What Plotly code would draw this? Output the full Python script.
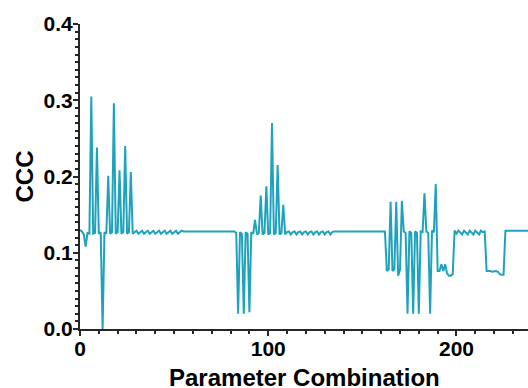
import plotly.graph_objects as go

# CCC value for each parameter combination (index 0..242)
ccc = [
    # 0-27
    0.130, 0.128, 0.124, 0.108, 0.126, 0.125, 0.305, 0.125, 0.126, 0.238,
    0.125, 0.127, 0.000, 0.127, 0.125, 0.201, 0.125, 0.127, 0.296, 0.125,
    0.127, 0.208, 0.125, 0.127, 0.240, 0.125, 0.127, 0.206,
    # 28-54
    0.125, 0.127, 0.129, 0.125, 0.127, 0.129, 0.125, 0.127, 0.129,
    0.125, 0.127, 0.129, 0.125, 0.127, 0.129, 0.125, 0.127, 0.129,
    0.125, 0.127, 0.129, 0.125, 0.127, 0.129, 0.125, 0.127, 0.129,
    # 55-82
    0.128, 0.128, 0.128, 0.128, 0.128, 0.128, 0.128, 0.128, 0.128, 0.128,
    0.128, 0.128, 0.128, 0.128, 0.128, 0.128, 0.128, 0.128, 0.128, 0.128,
    0.128, 0.128, 0.128, 0.128, 0.128, 0.128, 0.128, 0.128,
    # 83-108
    0.126, 0.020, 0.127, 0.125, 0.020, 0.127, 0.125, 0.022, 0.127, 0.125,
    0.143, 0.124, 0.126, 0.175, 0.124, 0.126, 0.187, 0.124, 0.126, 0.270,
    0.124, 0.126, 0.215, 0.124, 0.126, 0.163,
    # 109-135
    0.124, 0.127, 0.128, 0.124, 0.127, 0.128, 0.124, 0.127, 0.128,
    0.124, 0.127, 0.128, 0.124, 0.127, 0.128, 0.124, 0.127, 0.128,
    0.124, 0.127, 0.128, 0.124, 0.127, 0.128, 0.124, 0.127, 0.128,
    # 136-162
    0.128, 0.128, 0.128, 0.128, 0.128, 0.128, 0.128, 0.128, 0.128,
    0.128, 0.128, 0.128, 0.128, 0.128, 0.128, 0.128, 0.128, 0.128,
    0.128, 0.128, 0.128, 0.128, 0.128, 0.128, 0.128, 0.128, 0.128,
    # 163-198
    0.076, 0.078, 0.167, 0.076, 0.078, 0.167, 0.070, 0.078, 0.168,
    0.128, 0.126, 0.020, 0.128, 0.126, 0.020, 0.128, 0.126, 0.020,
    0.128, 0.127, 0.178, 0.128, 0.126, 0.020, 0.129, 0.127, 0.190,
    0.076, 0.076, 0.085, 0.076, 0.085, 0.073, 0.070, 0.070, 0.072,
    # 199-215
    0.129, 0.125, 0.129, 0.127, 0.124, 0.129, 0.127, 0.124, 0.129,
    0.127, 0.124, 0.129, 0.127, 0.124, 0.129, 0.127, 0.128,
    # 216-225
    0.076, 0.076, 0.076, 0.075, 0.076, 0.076, 0.075, 0.072, 0.071, 0.071,
    # 226-242
    0.129, 0.129, 0.129, 0.129, 0.129, 0.129, 0.129, 0.129, 0.129,
    0.129, 0.129, 0.129, 0.129, 0.129, 0.129, 0.129, 0.129,
]
combo = list(range(len(ccc)))

x_ticks = [0, 100, 200]
y_ticks = [0.0, 0.1, 0.2, 0.3, 0.4]
y_tick_labels = ["0.0", "0.1", "0.2", "0.3", "0.4"]
x_title = "Parameter Combination"
y_title = "CCC"

FONT = "Liberation Sans, Arial, sans-serif"
AXCOL = "#262626"

fig = go.Figure()
fig.add_trace(go.Scatter(
    x=combo, y=ccc, mode="lines",
    line=dict(color="#1fa3bc", width=2),
    showlegend=False, hoverinfo="skip",
))

fig.update_layout(
    width=528, height=388,
    margin=dict(l=80, r=0, t=24, b=59),
    paper_bgcolor="white", plot_bgcolor="white",
    font=dict(family=FONT, color="black"),
)
fig.update_xaxes(
    range=[0, 238], automargin=False,
    tickvals=x_ticks, ticktext=[str(v) for v in x_ticks],
    showgrid=False, zeroline=False,
    showline=True, linecolor=AXCOL, linewidth=2,
    ticks="outside", ticklen=5, tickwidth=1.5, tickcolor=AXCOL,
    tickfont=dict(size=21, weight="bold", family=FONT),
    ticklabelstandoff=-5,
    minor=dict(dtick=10, ticks="outside", ticklen=3, tickwidth=1.5, tickcolor=AXCOL, showgrid=False),
)
fig.update_yaxes(
    range=[0, 0.4], automargin=False,
    tickvals=y_ticks, ticktext=y_tick_labels,
    showgrid=False, zeroline=False,
    showline=True, linecolor=AXCOL, linewidth=2,
    ticks="outside", ticklen=5, tickwidth=1.5, tickcolor=AXCOL,
    tickfont=dict(size=21, weight="bold", family=FONT),
    ticklabelstandoff=-4,
    minor=dict(dtick=0.01, ticks="outside", ticklen=3, tickwidth=1.5, tickcolor=AXCOL, showgrid=False),
    title=dict(text=y_title, font=dict(size=24, weight="bold", family=FONT), standoff=3),
)
# x-axis title placed as a paper annotation so it can sit at the very bottom edge
fig.add_annotation(
    text=x_title, xref="paper", yref="paper", x=0.5, y=-0.108,
    xanchor="center", yanchor="top", showarrow=False,
    font=dict(size=24, weight="bold", family=FONT, color="black"),
)

# remove the default page margin so the 528x388 figure fills the window exactly
fig.write_html(
    "out.html",
    config={"displayModeBar": False},
    post_script="document.body.style.margin='0';document.body.style.overflow='hidden';",
)
